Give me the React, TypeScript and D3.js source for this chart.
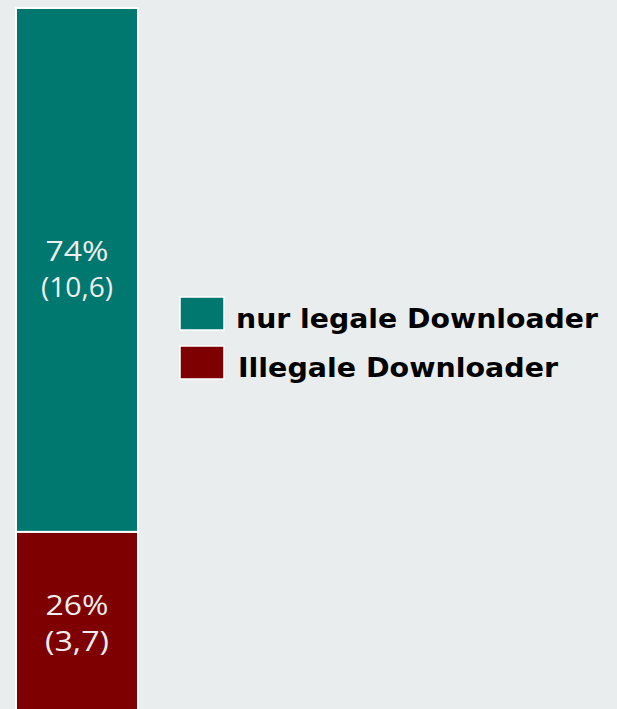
import React from "react";
import * as d3 from "d3";

const categories = ["nur legale Downloader", "Illegale Downloader"];
const shares = [74, 26];
const valuesMio = ["10,6", "3,7"];
const colors = ["#00776f", "#7f0000"];

const W = 617;
const H = 709;

export default function App() {
  const y = d3.scaleLinear().domain([0, 100]).range([716, 8]);
  const x = d3.scaleBand().domain(["all"]).range([16, 138]).padding(0);
  const ends: { y0: number; y1: number }[] = [];
  let acc = 100;
  shares.forEach((s) => {
    ends.push({ y0: acc - s, y1: acc });
    acc -= s;
  });
  const bw = x.bandwidth();
  const x0 = x("all") as number;
  const labelFont = "'Open Sans', 'Noto Sans', sans-serif";
  const pctWidth = (s: string) => s.length * 21;
  const valWidth = (s: string) => (s.length >= 6 ? 72 : 64);
  const legWidth = [362, 320];
  return (
    <div style={{ position: "absolute", left: 0, top: 0, margin: 0 }}>
      <style>{`body{margin:0}`}</style>
      <svg width={W} height={H} style={{ display: "block" }}>
        <rect x={0} y={0} width={W} height={H} fill="#e9edee" />
        {ends.map((e, i) => {
          const top = y(e.y1);
          const bot = y(e.y0);
          const cy = (top + bot) / 2;
          const p = `${shares[i]}%`;
          const v = `(${valuesMio[i]})`;
          return (
            <g key={i}>
              <rect
                x={x0}
                y={top}
                width={bw}
                height={bot - top}
                fill={colors[i]}
                stroke="#ffffff"
                strokeWidth={2}
              />
              <text
                x={x0 + bw / 2}
                y={cy - 9}
                textAnchor="middle"
                fill="#eeeeee"
                fontFamily={labelFont}
                fontSize={27}
                textLength={pctWidth(p)}
                lengthAdjust="spacingAndGlyphs"
              >
                {p}
              </text>
              <text
                x={x0 + bw / 2}
                y={cy + 27}
                textAnchor="middle"
                fill="#eeeeee"
                fontFamily={labelFont}
                fontSize={27}
                textLength={valWidth(v)}
                lengthAdjust="spacingAndGlyphs"
              >
                {v}
              </text>
            </g>
          );
        })}
        {categories.map((c, i) => (
          <g key={c} transform={`translate(0, ${i * 49})`}>
            <rect
              x={180}
              y={297}
              width={44}
              height={33}
              fill={colors[i]}
              stroke="#ffffff"
              strokeWidth={1.5}
            />
            <text
              x={i === 0 ? 236 : 238}
              y={328}
              fill="#000000"
              fontFamily="'DejaVu Sans', sans-serif"
              fontWeight="bold"
              fontSize={27}
              textLength={legWidth[i]}
              lengthAdjust="spacingAndGlyphs"
            >
              {c}
            </text>
          </g>
        ))}
      </svg>
    </div>
  );
}
